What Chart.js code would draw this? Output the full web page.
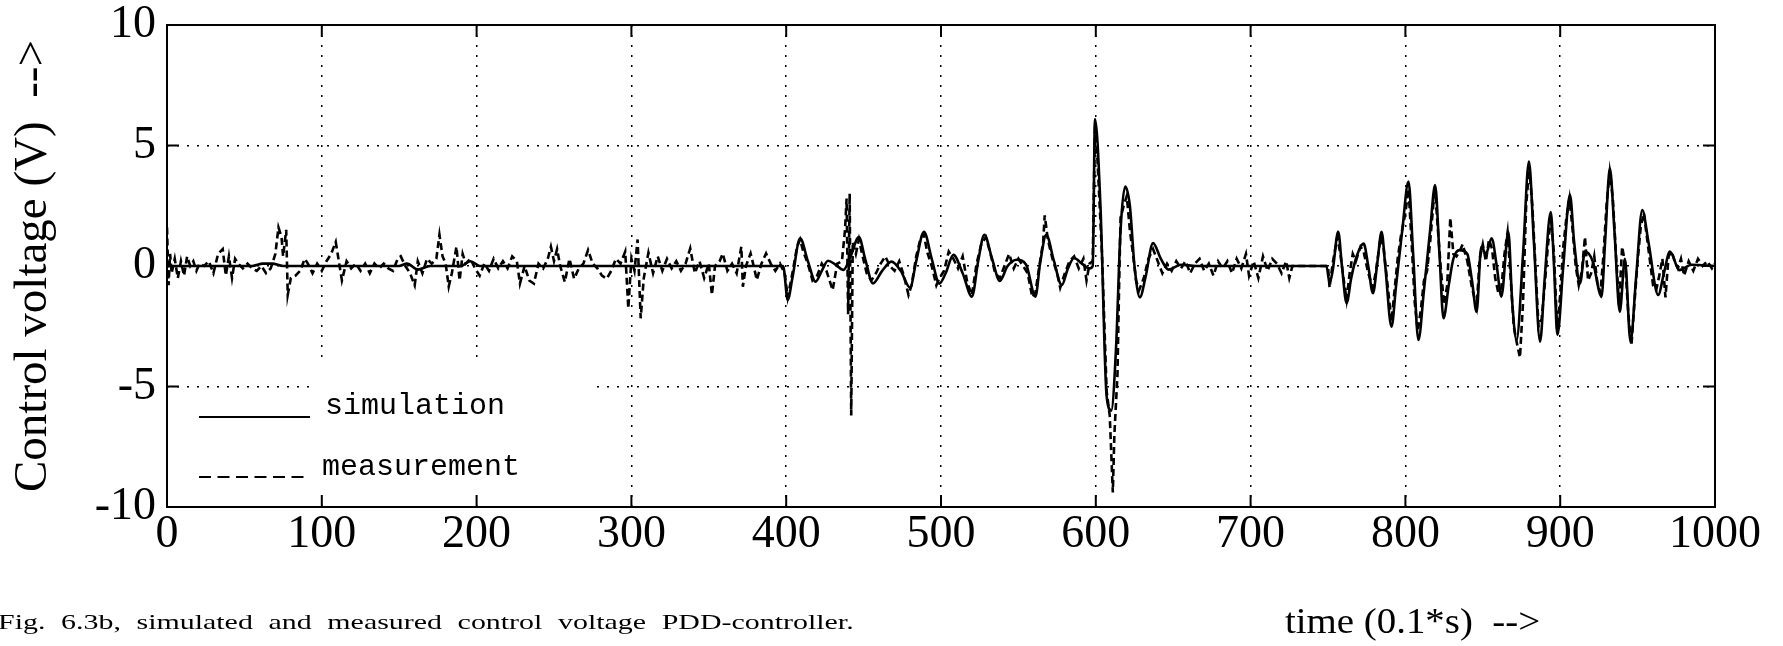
<!DOCTYPE html>
<html>
<head>
<meta charset="utf-8">
<script src="https://cdn.jsdelivr.net/npm/chart.js@4.4.1/dist/chart.umd.min.js"></script>
<style>
  html, body { margin: 0; padding: 0; background: #fff; }
  #wrap { position: relative; width: 1783px; height: 646px; overflow: hidden; }
  #caption { position: absolute; left: -2px; top: 609px; font: 22px "Liberation Serif", serif; word-spacing: 6px; white-space: nowrap; color: #000;
             transform: scaleX(1.36); transform-origin: left top; }
  #xtitle { position: absolute; left: 1285px; top: 600px; font: 36px "Liberation Serif", serif; white-space: pre; color: #000;
            transform: scaleX(1.08); transform-origin: left top; }
</style>
</head>
<body>
<div id="wrap">
  <canvas id="chart"></canvas>
  <div id="caption">Fig. 6.3b, simulated and measured control voltage PDD-controller.</div>
  <div id="xtitle">time (0.1*s)  --&gt;</div>
</div>
<script>
const xTickValues = [0, 100, 200, 300, 400, 500, 600, 700, 800, 900, 1000];
const yTickValues = [-10, -5, 0, 5, 10];
const seriesNames = ['simulation', 'measurement'];

// simulation (solid), time in 0.1 s
const simTime = [
  0, 55, 62, 68, 75, 150, 155, 162, 170, 190, 196, 202, 300, 398,
  401, 404, 409, 414, 419, 423, 427, 432, 437, 441, 447, 451, 456, 462, 468, 474, 480, 484, 489, 494, 499,
  503, 508, 514, 520, 524, 528, 533, 538, 543, 549, 555, 561, 564, 568, 573, 578, 582, 586, 591, 596, 598,
  599.5, 603, 607, 610, 613, 616, 619, 622, 625, 628.5, 632, 637, 642, 647, 655, 665, 749,
  751, 753, 756.6, 759, 762, 765, 768, 773, 776, 779, 782, 784.6, 787, 791, 794, 798, 802, 805, 808.4, 812,
  816, 819.2, 822, 824.6, 828, 831, 835, 840, 843, 846, 849, 852, 855.7, 859, 862, 866.5, 869, 871.8, 876, 879.8,
  883, 887, 890, 893.9, 896, 898.2, 902, 906.3, 909, 912.8, 916, 921, 926.7, 929, 932.1, 935, 938.5, 941.8, 945.4, 949,
  953, 957, 963.3, 967, 970.9, 977, 985, 1000
];
const simVolt = [
  0, 0, 0.1, 0.1, 0, 0, 0.1, -0.15, 0, 0, 0.2, 0, 0, 0,
  -1.4, -0.5, 1.15, 0.2, -0.65, -0.2, 0.22, 0.05, -0.16, 0.3, 1.2, 0.3, -0.72, -0.2, 0.18, -0.2, -0.9, 0.2, 1.42, 0.3, -0.73,
  -0.3, 0.46, -0.3, -1.27, 0.2, 1.29, 0.3, -0.62, 0, 0.26, 0.05, -1.27, 0.1, 1.29, 0.2, -0.8, -0.1, 0.33, 0.1, -0.1, 0,
  6.1, 2.5, -5.4, -6.0, -3.5, 1.5, 3.3, 2.5, 0, -1.3, -0.5, 0.95, 0.3, -0.15, 0.05, 0, 0,
  -0.7, -0.2, 1.42, 0, -1.54, -0.5, 0.3, 0.93, 0, -1.13, 0.2, 1.42, 0, -2.52, -0.8, 1.5, 3.5, 0.5, -3.07, -1.0,
  1.5, 3.36, 0.5, -2.17, -0.8, 0.3, 0.66, 0.5, -0.6, -1.9, 0.8, 0.5, 1.15, 0, -1.27, 1.42, -1.5, -3.07, 0.5, 4.33,
  1.0, -3.14, -0.5, 2.24, 0, -2.86, 0, 2.95, 1.0, -0.72, 0.6, 0.2, -1.27, 1.0, 4.05, 1.5, -1.9, 0.3, -3.14, -0.5,
  2.32, 1.0, -1.2, -0.3, 0.6, -0.17, 0.05, 0
];

// measurement (dashed)
const measTime = [
  0, 1, 2, 3, 5, 7, 9, 11, 13, 15, 17, 19, 21, 24, 27, 30, 33, 36, 38, 40, 42, 44, 46, 49, 52, 55, 58, 61, 64, 67,
  70, 72, 74, 75, 77, 78, 80, 83, 86, 89, 91, 94, 97, 100, 103, 106, 109, 111, 113, 116, 119, 122, 125, 128, 131,
  134, 137, 140, 143, 146, 149, 151, 154, 157, 160, 162, 165, 168,
  171, 174, 176, 178, 180, 182, 184, 187, 189, 191, 193, 196, 199, 202, 205, 208, 211, 214, 217, 220, 223, 226,
  228, 231, 234, 237, 240, 243, 246, 248, 250, 252, 254, 257, 260, 263, 266, 269, 272, 275, 278, 281, 284, 287,
  290, 293, 296, 298, 300, 302, 304, 306, 308, 311, 314, 317, 320, 323, 326, 329, 332, 335,
  338, 341, 344, 347, 350, 352, 354, 357, 359, 362, 365, 368, 371, 372, 374, 377, 379, 381, 384, 387, 390, 393, 396, 399,
  401, 404, 407, 409, 411, 414, 417, 420, 423, 426, 430, 433, 436, 438, 439, 440, 441, 442, 443, 445,
  447, 449, 452, 455, 458, 461, 464, 467, 470, 473, 476, 479, 481, 484, 487, 489, 491, 494, 497, 499,
  502, 505, 508, 511, 514, 517, 520, 523, 526, 529, 532, 535, 538, 541, 544, 547, 550, 553, 556, 559,
  561, 564, 566, 567, 569, 572, 575, 577, 580, 583, 586, 589, 592, 594, 596, 598,
  599.5, 601, 604, 607, 609, 611, 612, 614, 615, 616, 618, 620, 622, 624, 626, 628, 631, 634, 637, 640,
  643, 646, 649, 652, 655, 658, 661, 664, 667, 670, 673, 676, 679, 682, 685, 688, 691, 694, 697, 699,
  702, 705, 708, 711, 714, 717, 720, 723, 725, 727, 750,
  751, 753, 756, 758, 760, 762, 764, 766, 768, 771, 773, 776, 779, 781, 784, 786, 788, 791, 793, 795,
  797, 800, 802, 804, 806, 808, 810, 812, 814, 816, 819, 821, 823, 825, 827, 829, 831, 833, 835, 837,
  840, 843, 846, 848, 850, 852, 854, 856, 858, 860, 862, 864, 866, 868, 870, 872, 874, 876, 878, 880,
  882, 884, 886, 888, 890, 892, 894, 896, 898, 900, 902, 904, 906, 908, 910, 912, 914, 916, 918, 920,
  922, 924, 926, 928, 930, 932, 934, 936, 938, 940, 942, 944, 946, 948, 950, 952, 954, 956, 958, 960,
  962, 964, 966, 968, 970, 972, 974, 976, 978, 980, 983, 986, 989, 992, 995, 998, 1000
];
const measVolt = [
  1.6, -0.8, 0.5, -0.3, 0.3, -0.5, 0.2, -0.4, 0.4, 0, 0.2, -0.2, 0.1, 0, 0.2, -0.3, 0.5, 0.7, -0.4, 0.4, -0.5, 0.3, 0.1, -0.1, 0.1, -0.1, -0.2, 0, -0.3, -0.1,
  0.5, 1.6, 1.2, 0.4, 1.5, -1.2, -0.5, -0.4, -0.2, 0.3, 0.1, -0.3, 0.1, -0.2, 0.2, 0.5, 1.0, 0.2, -0.6, 0.2, -0.1, 0.1, -0.2, 0.1, -0.3,
  0.1, -0.1, 0.1, -0.1, -0.2, 0.3, 0.4, 0, -0.3, -0.8, 0.2, -0.3, 0.3,
  0.1, 0.3, 1.3, 0.4, 0.1, -0.85, -0.3, 0.8, -0.6, 0.5, 0.1, 0.3, -0.1, -0.4, 0.1, -0.2, 0.3, -0.1, 0.2, -0.1, 0.4, 0.2,
  -0.73, 0, -0.6, -0.73, 0.1, -0.1, 0.3, 0.8, 0.2, 0.7, 0, -0.66, 0.3, -0.53, -0.1, 0.1, 0.66, 0.1, -0.1, -0.4, -0.53, -0.2,
  0.3, 0.1, 0.6, -1.76, 0.3, -0.2, 1.1, -2.17, -0.5, 0.55, -0.3, 0.4, -0.2, 0.3, -0.1, 0.2, -0.2, 0.1,
  0.73, -0.3, 0.2, -0.5, 0.1, -1.2, 0, 0.2, 0.52, -0.2, 0.1, -0.3, 0.8, -0.86, 0, 0.52, 0, -0.58, 0.1, 0.52, 0.1, -0.2, 0.1, -0.3,
  -1.3, -0.3, 0.8, 1.1, 0.6, 0.1, -0.6, -0.4, 0.1, -0.2, -1.0, 0.1, 0.2, 1.5, 2.8, -2.0, 3.0, -6.2, 1.0, 0.5,
  1.1, 0.5, -0.3, -0.6, -0.3, 0.1, 0.4, 0, -0.2, 0.2, -0.4, -1.2, -0.8, 0.4, 1.2, 1.3, 0.6, 0, -0.8, -0.5,
  -0.2, 0.6, 0.3, -0.1, 0.4, -0.7, -1.2, 0.1, 0.9, 1.2, 0.5, -0.3, -0.5, 0, 0.5, -0.1, 0.3, 0, -0.3, -1.3,
  -1.1, 0.2, 1.0, 2.1, 1.1, 0.3, -0.3, -0.9, -0.3, 0.2, 0.4, -0.1, 0.3, -0.6, 0.1, 0.2,
  5.9, 4.5, 0.5, -5.2, -6.2, -9.4, -7.0, -4.5, -1.0, 2.0, 2.5, 2.9, 1.5, 0.5, -0.6, -1.0, -0.5, 0.3, 0.7, 0.2,
  -0.3, 0.1, -0.2, 0.2, -0.1, 0.2, -0.3, 0.1, 0.3, -0.2, 0.1, -0.4, 0.2, -0.1, 0.2, -0.3, 0.3, -0.1, 0.5, -0.4,
  0.2, -0.5, 0.4, -0.2, 0.3, 0.1, -0.3, 0.2, -0.5, 0, 0,
  -0.9, 0.1, 1.2, 0.5, -0.5, -1.4, -0.3, 0.5, 0.2, 0.8, 0.6, -0.3, -0.9, -0.2, 1.2, 0.7, -0.5, -2.3, -1.0, 0.3,
  1.2, 2.2, 3.2, 1.0, -1.5, -2.7, -1.8, -0.6, -0.2, 1.0, 3.3, 1.5, -0.2, -1.6, -0.8, 2.0, 0.5, 0.4, 0.6, 0.9,
  0.2, -0.9, -1.7, 0.3, 0.9, 0.2, 1.1, 0.7, -0.5, -1.1, -0.9, 0.5, 1.4, -0.5, -2.5, -3.2, -3.8, -1.5, 2.5, 4.1,
  2.5, 0, -2.5, -2.2, -0.8, 0.8, 2.0, 0.5, -2.6, -1.2, 0.8, 2.0, 2.8, 1.5, 0, -0.8, -0.2, 1.2, -0.6, -0.3,
  0.4, -0.7, -1.1, 0.5, 2.6, 3.9, 2.8, 0.5, -1.6, 0.8, 0.1, -2.0, -3.3, -1.5, 0.2, 1.6, 2.2, 1.2, 0.2, -0.8,
  -1.0, -0.4, 0.3, -1.3, 0.4, 0.6, 0.2, -0.1, 0.3, -0.4, 0.2, -0.2, 0.3, 0, 0.2, -0.1, 0.1
];

const serif = '"Liberation Serif", "Times New Roman", serif';
const mono = '"Liberation Mono", "Courier New", monospace';

function toPoints(ts, vs) { return ts.map((t, i) => ({ x: t, y: vs[i] })); }

// frame, inward ticks and the legend block, like the old matlab plot
const framePlugin = {
  id: 'frame',
  beforeDatasetsDraw(chart) {
    const { ctx, chartArea: a } = chart;
    ctx.save();
    ctx.fillStyle = '#fff';
    ctx.fillRect(a.left + 144, a.bottom - 142, 286, 140);
    ctx.restore();
  },
  afterDatasetsDraw(chart) {
    const { ctx, chartArea: a, scales: { x, y } } = chart;
    ctx.save();
    ctx.strokeStyle = '#000';
    ctx.lineWidth = 2;
    ctx.strokeRect(a.left, a.top, a.right - a.left, a.bottom - a.top);
    ctx.beginPath();
    xTickValues.forEach(v => {
      const px = x.getPixelForValue(v);
      ctx.moveTo(px, a.bottom); ctx.lineTo(px, a.bottom - 12);
      ctx.moveTo(px, a.top); ctx.lineTo(px, a.top + 12);
    });
    yTickValues.forEach(v => {
      const py = y.getPixelForValue(v);
      ctx.moveTo(a.left, py); ctx.lineTo(a.left + 12, py);
      ctx.moveTo(a.right, py); ctx.lineTo(a.right - 12, py);
    });
    ctx.stroke();

    // legend
    const lx = a.left + 32, lw = 111;
    const y1 = a.bottom - 90, y2 = a.bottom - 30;
    ctx.lineWidth = 2;
    ctx.beginPath(); ctx.moveTo(lx, y1); ctx.lineTo(lx + lw, y1); ctx.stroke();
    ctx.setLineDash([12, 6.5]);
    ctx.beginPath(); ctx.moveTo(lx, y2); ctx.lineTo(lx + lw, y2); ctx.stroke();
    ctx.setLineDash([]);
    ctx.fillStyle = '#000';
    ctx.font = '30px ' + mono;
    ctx.textBaseline = 'alphabetic';
    ctx.fillText(seriesNames[0], a.left + 158, y1 - 3);
    ctx.fillText(seriesNames[1], a.left + 155, y2 - 2);
    ctx.restore();
  }
};

new Chart(document.getElementById('chart'), {
  type: 'line',
  data: {
    datasets: [
      { label: seriesNames[0], data: toPoints(simTime, simVolt), borderColor: '#000', borderWidth: 2.6,
        pointRadius: 0, cubicInterpolationMode: 'monotone', fill: false },
      { label: seriesNames[1], data: toPoints(measTime, measVolt), borderColor: '#000', borderWidth: 2.6,
        borderDash: [7, 4], pointRadius: 0, tension: 0, fill: false }
    ]
  },
  options: {
    responsive: true,
    maintainAspectRatio: false,
    animation: false,
    events: [],
    layout: { padding: { left: 0, top: 25, right: 68, bottom: 0 } },
    plugins: { legend: { display: false }, tooltip: { enabled: false } },
    scales: {
      x: {
        type: 'linear', min: 0, max: 1000,
        afterBuildTicks: s => { s.ticks = xTickValues.map(v => ({ value: v })); },
        afterFit: s => { s.height = 139; },
        ticks: { color: '#000', font: { family: serif, size: 46 }, padding: 0, maxRotation: 0, autoSkip: false,
                 callback: v => String(v) },
        grid: { color: '#000', lineWidth: 1.5, drawTicks: false },
        border: { display: false, dash: [2, 8] }
      },
      y: {
        type: 'linear', min: -10, max: 10,
        afterBuildTicks: s => { s.ticks = yTickValues.map(v => ({ value: v })); },
        afterFit: s => { s.width = 167; s.paddingTop = 0; s.paddingBottom = 0; },
        ticks: { color: '#000', font: { family: serif, size: 46 }, padding: 11, callback: v => String(v) },
        grid: { color: '#000', lineWidth: 1.5, drawTicks: false },
        border: { display: false, dash: [2, 8] },
        title: { display: true, text: 'Control voltage (V)  -->', color: '#000',
                 font: { family: serif, size: 47 }, padding: { top: 5, bottom: 0 } }
      }
    }
  },
  plugins: [framePlugin]
});
</script>
</body>
</html>
